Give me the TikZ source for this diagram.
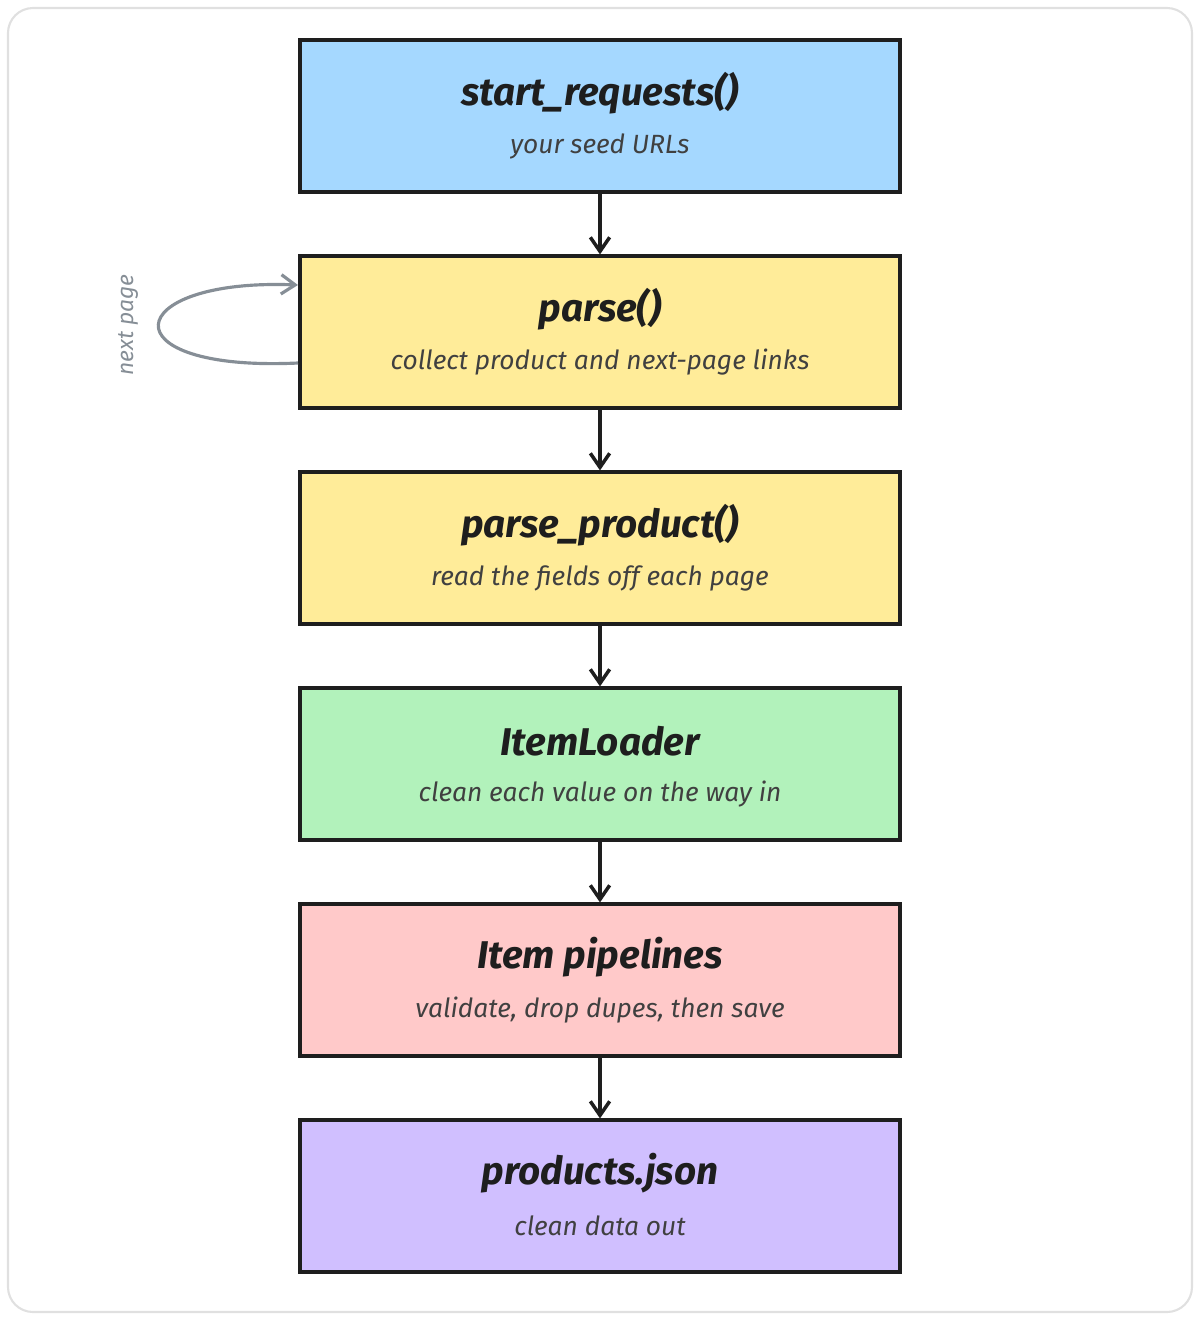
\documentclass[tikz,border=0pt]{standalone}
\usepackage{fontspec}
\setmainfont{Fira Sans}
\usetikzlibrary{arrows.meta}
\definecolor{ink}{HTML}{1E1E1E}
\definecolor{cblue}{HTML}{A5D8FF}
\definecolor{cyel}{HTML}{FFEC99}
\definecolor{cgreen}{HTML}{B2F2BB}
\definecolor{cred}{HTML}{FFC9C9}
\definecolor{cpur}{HTML}{D0BFFF}
\definecolor{cgray}{HTML}{868E96}
\begin{document}
\begin{tikzpicture}[x=0.02cm,y=-0.02cm,
  box/.style={draw=ink,line width=1.8pt,minimum width=12cm,minimum height=3.04cm,inner sep=0pt},
  ttl/.style={font=\fontsize{22}{24}\selectfont\bfseries\itshape,text=ink},
  sub/.style={font=\fontsize{15}{17}\selectfont\itshape,text=ink!85},
  arr/.style={draw=ink,line width=2pt,-{Straight Barb[length=8pt,width=11pt]}}]
\useasboundingbox (0,0) rectangle (1200,1320);
\draw[color=black!12,line width=1.2pt,rounded corners=0.5cm] (8,8) rectangle (1192,1312);
\foreach \n/\y/\c/\t/\s in {a/116/cblue/start\_requests()/your seed URLs,
  b/332/cyel/parse()/collect product and next-page links,
  c/548/cyel/parse\_product()/read the fields off each page,
  d/764/cgreen/ItemLoader/clean each value on the way in,
  e/980/cred/Item pipelines/{validate, drop dupes, then save},
  f/1196/cpur/products.json/clean data out}{
  \node[box,fill=\c] (\n) at (600,\y) {};
  \node[ttl] (\n t) at (600,\y-23) {\t};
  \node[sub] (\n s) at (600,\y+30) {\s};
}
\foreach \p/\q in {a/b,b/c,c/d,d/e,e/f}{\draw[arr] (\p.south) -- (\q.north);}
\coordinate (l1) at (298,363);
\coordinate (l2) at (298,285);
\draw[cgray,line width=1.8pt,-{Straight Barb[length=8pt,width=11pt]}] (l1) .. controls (105,372) and (120,278) .. (l2);
\node[cgray,rotate=90,font=\fontsize{13}{15}\selectfont\itshape] (lbl) at (128,325) {next page};
\end{tikzpicture}
\end{document}
